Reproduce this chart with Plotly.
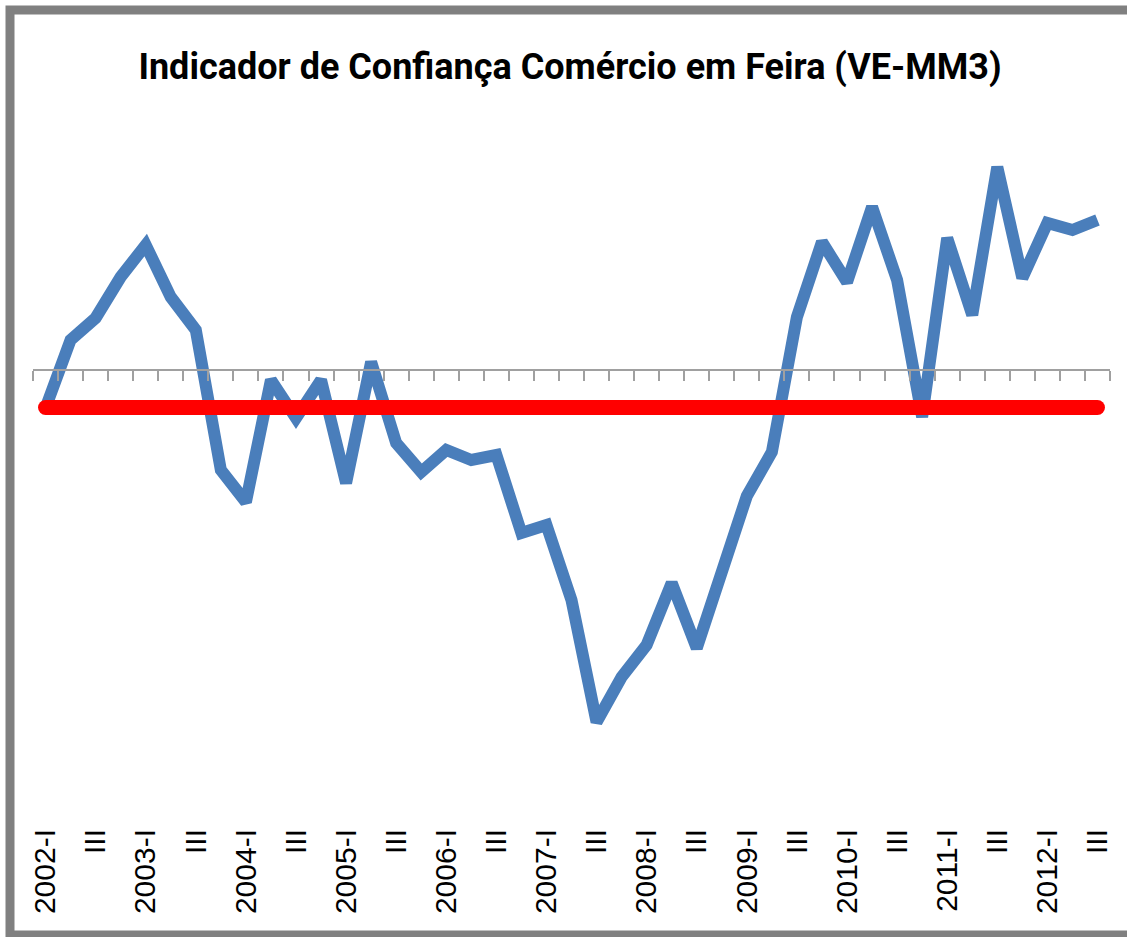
import plotly.graph_objects as go

# ---------------- data ----------------
years = list(range(2002, 2013))
quarters = ["I", "II", "III", "IV"]
categories = [f"{y}-{q}" for y in years for q in quarters][:43]  # 2002-I .. 2012-III

indicator = [-3.8, 3.0, 5.2, 9.3, 12.5, 7.3, 4.0, -10.0, -13.2, -1.0,
             -4.8, -1.0, -11.3, 0.8, -7.3, -10.2, -8.0, -9.0, -8.5, -16.3,
             -15.5, -23.0, -35.2, -30.7, -27.5, -21.3, -27.8, -20.0, -12.6, -8.2,
             5.3, 12.8, 8.8, 16.3, 9.0, -4.7, 13.2, 5.5, 20.3, 9.2,
             14.7, 14.0, 15.0]
reference_level = [-3.75] * len(categories)

tick_vals = [c for c in categories if c.endswith("-I") or c.endswith("-III")]
tick_text = [c if c.endswith("-I") else "III" for c in tick_vals]

title_text = "Indicador de Confiança Comércio em Feira (VE-MM3)"

# ---------------- layout geometry ----------------
W, H = 1127, 937
ML, MR, MT, MB = 33, 17, 130, 115
y_min, y_max = -45.2, 24.0
zero_pos = (0 - y_min) / (y_max - y_min)

fig = go.Figure()
fig.add_trace(go.Scatter(
    x=categories, y=indicator, mode="lines",
    line=dict(color="#4A7EBB", width=12),
    xaxis="x", yaxis="y", showlegend=False, hoverinfo="x+y"))
cap_sizes = [15] + [0] * (len(categories) - 2) + [15]
fig.add_trace(go.Scatter(
    x=categories, y=reference_level, mode="lines+markers",
    line=dict(color="#FF0000", width=15),
    marker=dict(color="#FF0000", size=cap_sizes, opacity=1, line=dict(width=0)),
    xaxis="x2", yaxis="y", showlegend=False, hoverinfo="x+y"))

pw = W - ML - MR
ph = H - MT - MB
def px_x(p): return (p - ML) / pw
def px_y(p): return (H - MB - p) / ph

fig.update_layout(
    width=W, height=H,
    margin=dict(l=ML, r=MR, t=MT, b=MB),
    paper_bgcolor="white", plot_bgcolor="white",
    title=dict(text=f"<b>{title_text}</b>", x=570 / W, xanchor="center",
               y=1 - 66 / H, yanchor="middle",
               font=dict(family="Roboto, Arial, sans-serif", size=36, color="black")),
    xaxis=dict(type="category", categoryorder="array", categoryarray=categories,
               range=[-0.5, len(categories) - 0.5],
               showgrid=False, zeroline=False, showline=False, ticks="",
               tickmode="array", tickvals=tick_vals, ticktext=tick_text,
               tickangle=-90,
               tickfont=dict(family="Liberation Sans, Arial, sans-serif", size=30, color="black")),
    xaxis2=dict(type="category", categoryorder="array", categoryarray=categories,
                range=[-0.5, len(categories) - 0.5],
                overlaying="x", anchor="free", position=zero_pos,
                showgrid=False, zeroline=False, showline=True, linecolor="#A0A0A0", linewidth=2,
                ticks="outside", ticklen=10, tickwidth=2, tickcolor="#A0A0A0",
                tickson="boundaries", showticklabels=False),
    yaxis=dict(range=[y_min, y_max], showgrid=False, zeroline=False,
               showline=False, showticklabels=False, ticks=""),
    shapes=[dict(type="rect", xref="paper", yref="paper",
                 x0=px_x(10), x1=px_x(1160), y0=px_y(10), y1=px_y(935),
                 line=dict(color="#808080", width=9), fillcolor="rgba(0,0,0,0)",
                 layer="below")],
)

fig.write_html("out.html", config={"displayModeBar": False},
               post_script="document.body.style.margin='0px';document.body.style.overflow='hidden';")
